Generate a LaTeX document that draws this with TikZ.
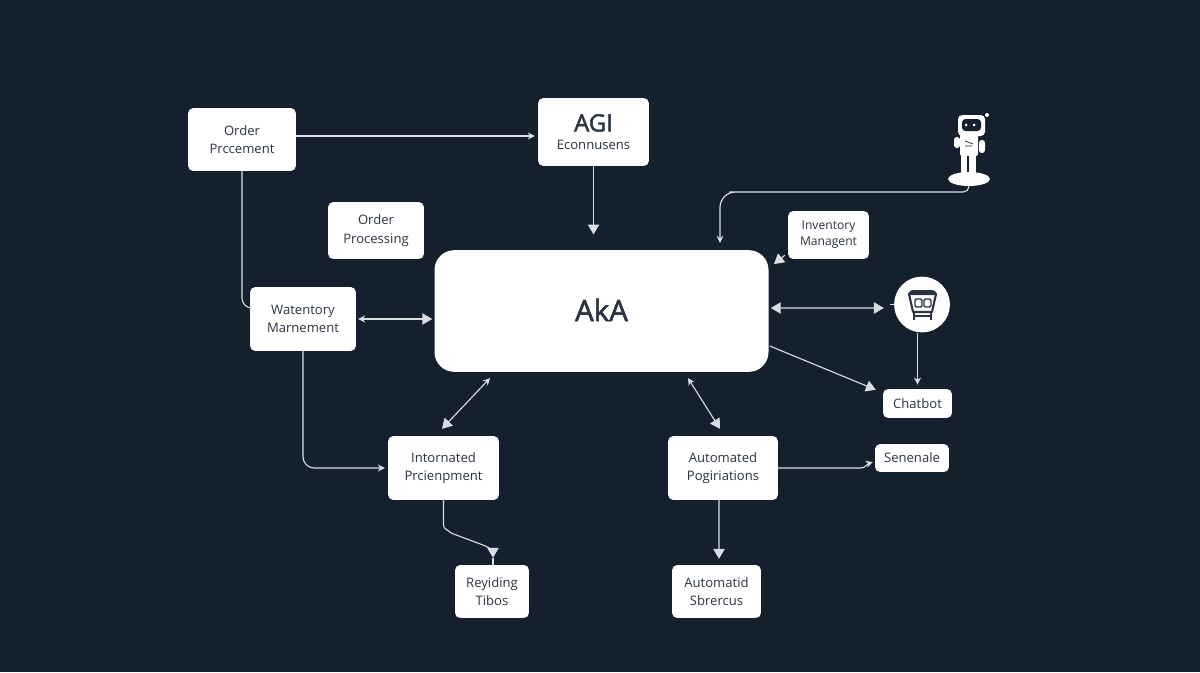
\documentclass[tikz,border=0pt]{standalone}
\usepackage{fontspec}
\setmainfont{Open Sans}
\newfontfamily\headfont[FakeBold=2]{Open Sans}
\usetikzlibrary{arrows.meta,positioning,shapes.geometric}
\definecolor{bgcol}{HTML}{15202E}
\definecolor{inkcol}{HTML}{2B3440}
\definecolor{linecol}{HTML}{D9DEE2}
\tikzset{bigtip/.tip={Triangle[length=7pt,width=8pt]},
  smalltip/.tip={Stealth[length=5pt,width=5pt]}}

\begin{document}
\begin{tikzpicture}[x=0.025cm, y=-0.025cm]
\tikzstyle{block} = [fill = white, rectangle, rounded corners = 3.5pt, inner sep = 0pt,
  text = inkcol, align = center, font = \fontsize{9.3}{13}\selectfont];
\tikzstyle{line} = [draw = linecol, line width = 0.8pt]
\fill [bgcol] (0, 0) rectangle (1200, 672);
\useasboundingbox (0, 0) rectangle (1200, 672);

\node [block, minimum width = 108*0.709pt, minimum height = 63*0.709pt] at (242, 139.5) (orderprc) {Order \\ Prccement};
\node [block, minimum width = 111*0.709pt, minimum height = 68*0.709pt] at (593.5, 132) (agi) {{\headfont\fontsize{17}{20}\selectfont AGI} \\ {\fontsize{9.3}{14}\selectfont Econnusens}};
\node [block, minimum width = 96*0.709pt, minimum height = 57*0.709pt] at (376, 230.5) (orderproc) {Order \\ Processing};
\node [block, minimum width = 81*0.709pt, minimum height = 48*0.709pt, font = \fontsize{8.6}{11.5}\selectfont] at (828.5, 235) (inventory) {Inventory \\ Managent};
\node [block, minimum width = 106*0.709pt, minimum height = 64*0.709pt] at (303, 319) (watentory) {Watentory \\ Marnement};
\node [block, minimum width = 335*0.709pt, minimum height = 122*0.709pt, rounded corners = 14pt, font = \headfont\fontsize{21}{24}\selectfont] at (601.5, 311) (aka) {\raisebox{1.5pt}{AkA}};
\node [block, minimum width = 69*0.709pt, minimum height = 29*0.709pt] at (917.5, 403.5) (chatbot) {Chatbot};
\node [block, minimum width = 74*0.709pt, minimum height = 28*0.709pt] at (912, 458) (senenale) {Senenale};
\node [block, minimum width = 111*0.709pt, minimum height = 64*0.709pt] at (443.5, 468) (intornated) {Intornated \\ Prcienpment};
\node [block, minimum width = 110*0.709pt, minimum height = 64*0.709pt] at (723, 468) (automated) {Automated \\ Pogiriations};
\node [block, minimum width = 74*0.709pt, minimum height = 53*0.709pt] at (492, 591.5) (reyiding) {Reyiding \\ Tibos};
\node [block, minimum width = 89*0.709pt, minimum height = 53*0.709pt] at (716.5, 591.5) (automatid) {Automatid \\ Sbrercus};
\node [circle, fill = white, minimum size = 56*0.709pt, inner sep = 0pt] at (922, 304.5) (cart) {};
\node [ellipse, fill = white, minimum width = 42*0.709pt, minimum height = 14*0.709pt, inner sep = 0pt] at (969, 179) (robotbase) {};

% robot
\fill [white] (961, 153) rectangle (967, 175);
\fill [white] (969, 153) rectangle (976, 175);
\fill [white, rounded corners = 1.5pt] (960, 134) rectangle (978, 156);
\fill [white, rounded corners = 2pt] (954, 137) rectangle (960, 148);
\fill [white, rounded corners = 2pt] (979, 140) rectangle (985, 153);
\draw [bgcol, line width = 0.5pt] (965, 141) -- (973, 144) (965, 146) -- (972, 146);
\fill [white, rounded corners = 3pt] (958, 115) rectangle (985, 136);
\fill [bgcol, rounded corners = 2.5pt] (962, 119) rectangle (981, 131);
\fill [white] (966, 125) circle (1.5) (974, 125) circle (1.5);
\fill [white] (987, 115) circle (2);

% cart
\fill [inkcol, rounded corners = 1pt] (907, 295) -- (911, 290) -- (934, 290) -- (938, 295) -- cycle;
\draw [inkcol, line width = 1.5pt, line join = round] (909, 294) -- (913, 312) -- (932, 312) -- (936, 294);
\draw [inkcol, line width = 1.5pt] (914, 312) -- (914, 320) (931, 312) -- (931, 320) (914, 316) -- (931, 316);
\draw [inkcol, line width = 1pt, rounded corners = 1pt] (915, 299) rectangle (922, 307) (924, 299) rectangle (931, 307);

\coordinate (bend) at (720, 192);
\coordinate (invtip) at (774, 264);
\path [line, -{smalltip}] ([shift = {(0, -3.5)}]orderprc.east) -- ([shift = {(-3, 4)}]agi.west);
\path [line, rounded corners = 7pt] (orderprc.south) |- ([shift = {(0, -11)}]watentory.west);
\path [line, -{bigtip}, shorten >= 11pt] (agi.south) -- (agi.south |- aka.north);
\path [line, {smalltip}-{bigtip}] ([shift = {(2, 0)}]watentory.east) -- ([shift = {(-2, 0)}]watentory.east -| aka.west);
\path [line, -{smalltip}, shorten >= 5pt] (robotbase.south) [rounded corners = 4pt] |- ([shift = {(15, 0)}]bend) [rounded corners = 11pt] -- (bend) -- (bend |- aka.north);
\path [line, -{bigtip}] ([shift = {(-3, -4)}]inventory.south west) -- (invtip);
\path [line, {bigtip}-{bigtip}] ([shift = {(2, -3)}]aka.east) -- ([shift = {(-10, 3.5)}]cart.west);
\path [line] (cart.west) -- ++(-4, 0);
\path [line, -{smalltip}, shorten >= 3pt] (chatbot.north |- cart.south) -- (chatbot.north);
\path [line, -{bigtip}] ([shift = {(1, 35)}]aka.east) -- ([shift = {(-7, 1)}]chatbot.north west);
\path [line, rounded corners = 8pt, -{smalltip}] (watentory.south) |- ([shift = {(-3, 0)}]intornated.west);
\path [line, {smalltip}-{bigtip}] ([shift = {(-111.5, 6)}]aka.south) -- ([shift = {(-1.5, -7)}]intornated.north);
\path [line, {smalltip}-{bigtip}] ([shift = {(86.5, 6)}]aka.south) -- ([shift = {(-3, -7)}]automated.north);
\path [line, -{smalltip}] (automated.east) -- ++(82, 0) .. controls +(6, 0) and +(-6, 2) .. ([shift = {(-2, 4)}]senenale.west);
\path [line, -{bigtip}] ([shift = {(-4, 0)}]automated.south) -- ([shift = {(2.5, -6)}]automatid.north);
\path [line, -{bigtip}] (intornated.south) -- ++(0, 24) .. controls +(0, 6) and +(-4, -4) .. ++(8, 9) -- ++(32, 12) .. controls +(6, 2) and +(0, -6) .. ([shift = {(1, -7)}]reyiding.north);
\path [line] ([shift = {(1, -7)}]reyiding.north) -- ([shift = {(1, 0)}]reyiding.north);
\end{tikzpicture}
\end{document}
